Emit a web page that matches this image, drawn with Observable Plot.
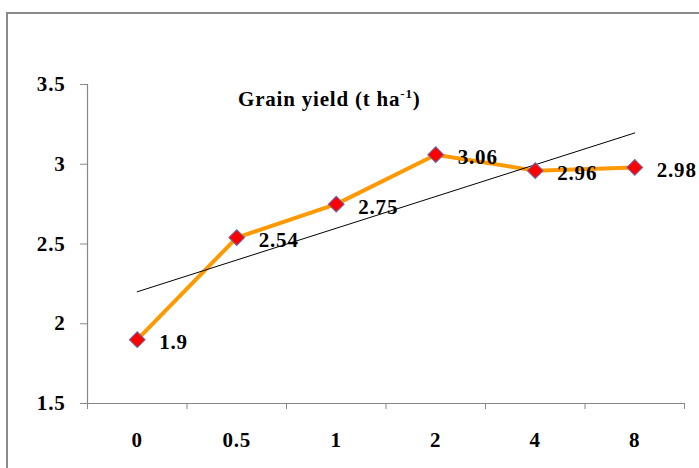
<!DOCTYPE html>
<html>
<head>
<meta charset="utf-8">
<script src="https://cdn.jsdelivr.net/npm/d3@7"></script>
<script src="https://cdn.jsdelivr.net/npm/@observablehq/plot@0.6"></script>
<style>
  html, body { margin: 0; padding: 0; background: #fff; overflow: hidden; }
  #wrap { position: relative; width: 699px; height: 468px; overflow: hidden; }
  #border { position: absolute; left: 6px; top: 12px; width: 760px; height: 520px; border: 2px solid #8a8a8a; box-sizing: border-box; }
  #chart { position: absolute; left: 0; top: 0; }
  #chart svg, #chart svg text { font-family: 'Liberation Serif', 'DejaVu Serif', serif !important; }
  #chart svg text { letter-spacing: 0.8px; }
</style>
</head>
<body>
<div id="wrap"><div id="border"></div><div id="chart"></div></div>
<script>
const categories = ["0", "0.5", "1", "2", "4", "8"];
const yieldValues = [1.9, 2.54, 2.75, 3.06, 2.96, 2.98];
const yTicks = [1.5, 2, 2.5, 3, 3.5];
const titleText = "Grain yield (t ha";
const titleSup = "-1";

const data = categories.map((c, i) => ({i, c, v: yieldValues[i]}));
const bounds = d3.range(categories.length + 1).map(k => k - 0.5);
const serif = "'Liberation Serif', 'DejaVu Serif', serif";

const plot = Plot.plot({
  width: 699,
  height: 468,
  marginLeft: 87,
  marginRight: 15,
  marginTop: 84,
  marginBottom: 65,
  style: {fontFamily: serif, background: "transparent", overflow: "visible"},
  x: {domain: [-0.5, categories.length - 0.5]},
  y: {domain: [1.5, 3.5]},
  marks: [
    Plot.ruleY([1.5], {stroke: "#888", strokeWidth: 1.2}),
    Plot.ruleX([-0.5], {stroke: "#888", strokeWidth: 1.2}),
    Plot.axisY({ticks: yTicks, tickSize: 7, tickPadding: 15, stroke: "#888", fontSize: 21, fontWeight: "bold", fill: "#000", label: null, tickFormat: d => String(d)}),
    Plot.axisX({ticks: bounds, tickSize: 6, stroke: "#888", tickFormat: () => "", label: null}),
    Plot.axisX({ticks: d3.range(categories.length), tickSize: 0, tickPadding: 29, fontSize: 21, fontWeight: "bold", fill: "#000", tickFormat: i => categories[i], label: null}),
    Plot.line(data, {x: "i", y: "v", stroke: "#FF9900", strokeWidth: 4}),
    Plot.linearRegressionY(data, {x: "i", y: "v", stroke: "#000", strokeWidth: 1, ci: 0}),
    Plot.dot(data, {x: "i", y: "v", symbol: "square", rotate: 45, r: 6.3, fill: "#FF0000", stroke: "#6a6aa8", strokeWidth: 1}),
    Plot.text(data, {x: "i", y: "v", text: d => String(d.v), textAnchor: "start", dx: 22, dy: 3, fontSize: 21, fontWeight: "bold", fill: "#000"})
  ]
});
document.getElementById("chart").appendChild(plot);

// title with superscript
const svg = d3.select(plot);
const t = svg.append("text")
  .attr("x", 238).attr("y", 106)
  .attr("text-anchor", "start")
  .attr("font-family", serif).attr("font-size", 21).attr("font-weight", "bold").attr("fill", "#000");
t.append("tspan").text(titleText);
t.append("tspan").attr("font-size", 13).attr("dy", -8).text(titleSup);
t.append("tspan").attr("dy", 8).text(")");
</script>
</body>
</html>
